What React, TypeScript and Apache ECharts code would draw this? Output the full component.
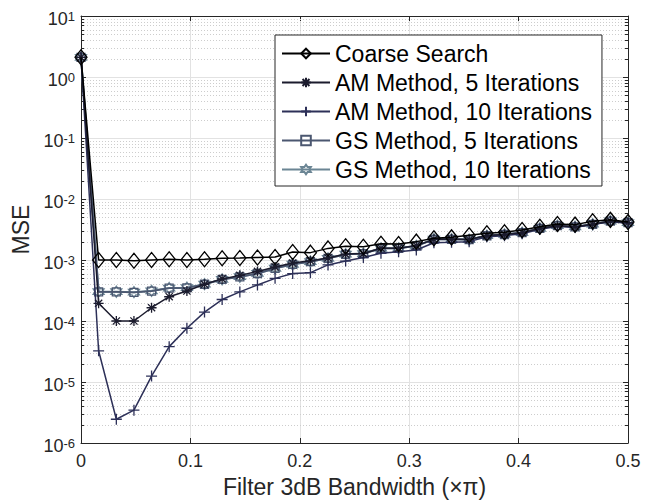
import React, { useEffect, useRef } from 'react';
import * as echarts from 'echarts';

// Filter 3dB bandwidth (x pi), 32 points from 0 to 0.5
const bandwidth = [
  0, 0.0161, 0.0323, 0.0484, 0.0645, 0.0806, 0.0968, 0.1129,
  0.129, 0.1452, 0.1613, 0.1774, 0.1935, 0.2097, 0.2258, 0.2419,
  0.2581, 0.2742, 0.2903, 0.3065, 0.3226, 0.3387, 0.3548, 0.371,
  0.3871, 0.4032, 0.4194, 0.4355, 0.4516, 0.4677, 0.4839, 0.5,
];

const coarseSearch = [
  2.1, 1.0e-3, 1.0e-3, 0.97e-3, 1.0e-3, 1.03e-3, 1.0e-3, 1.03e-3,
  1.07e-3, 1.08e-3, 1.1e-3, 1.12e-3, 1.35e-3, 1.32e-3, 1.55e-3, 1.68e-3,
  1.65e-3, 1.85e-3, 1.83e-3, 2.0e-3, 2.27e-3, 2.35e-3, 2.55e-3, 2.75e-3,
  2.85e-3, 3.1e-3, 3.5e-3, 3.9e-3, 3.8e-3, 4.3e-3, 4.55e-3, 4.2e-3,
];

const am5 = [
  2.1, 1.95e-4, 1.0e-4, 1.0e-4, 1.65e-4, 2.5e-4, 3.1e-4, 4.0e-4,
  4.9e-4, 5.6e-4, 6.5e-4, 7.7e-4, 8.9e-4, 9.7e-4, 1.08e-3, 1.25e-3,
  1.28e-3, 1.56e-3, 1.56e-3, 1.72e-3, 2.18e-3, 2.2e-3, 2.16e-3, 2.52e-3,
  2.63e-3, 2.8e-3, 3.3e-3, 3.65e-3, 3.52e-3, 3.87e-3, 4.35e-3, 4.1e-3,
];

const am10 = [
  2.1, 3.25e-5, 2.45e-6, 3.45e-6, 1.25e-5, 3.8e-5, 7.6e-5, 1.4e-4,
  2.25e-4, 3.0e-4, 3.9e-4, 5.0e-4, 6.0e-4, 6.2e-4, 8.3e-4, 9.6e-4,
  1.1e-3, 1.29e-3, 1.37e-3, 1.46e-3, 1.92e-3, 1.95e-3, 2.0e-3, 2.4e-3,
  2.5e-3, 2.7e-3, 3.2e-3, 3.55e-3, 3.45e-3, 3.8e-3, 4.25e-3, 4.0e-3,
];

const gs5 = [
  2.1, 3.0e-4, 3.0e-4, 2.95e-4, 3.1e-4, 3.45e-4, 3.5e-4, 4.0e-4,
  4.8e-4, 5.3e-4, 6.0e-4, 7.3e-4, 8.5e-4, 9.4e-4, 1.06e-3, 1.24e-3,
  1.27e-3, 1.55e-3, 1.55e-3, 1.7e-3, 2.18e-3, 2.18e-3, 2.15e-3, 2.5e-3,
  2.62e-3, 2.8e-3, 3.3e-3, 3.65e-3, 3.5e-3, 3.85e-3, 4.35e-3, 4.1e-3,
];

const gs10 = [
  2.1, 3.02e-4, 3.02e-4, 2.97e-4, 3.12e-4, 3.47e-4, 3.52e-4, 4.02e-4,
  4.82e-4, 5.32e-4, 6.02e-4, 7.32e-4, 8.52e-4, 9.42e-4, 1.065e-3, 1.245e-3,
  1.275e-3, 1.555e-3, 1.555e-3, 1.705e-3, 2.19e-3, 2.19e-3, 2.16e-3, 2.51e-3,
  2.63e-3, 2.81e-3, 3.31e-3, 3.66e-3, 3.51e-3, 3.86e-3, 4.36e-3, 4.11e-3,
];

const seriesNames = [
  'Coarse Search',
  'AM Method, 5 Iterations',
  'AM Method, 10 Iterations',
  'GS Method, 5 Iterations',
  'GS Method, 10 Iterations',
];

const xTickLabels = ['0', '0.1', '0.2', '0.3', '0.4', '0.5'];
const yDecadeExponents = [-6, -5, -4, -3, -2, -1, 0, 1];

const FONT = 'Arial, "Liberation Sans", Helvetica, sans-serif';
const TXT = '#262626';

const ASTERISK = 'path://M0,-5L0,5M-5,0L5,0M-3.6,-3.6L3.6,3.6M-3.6,3.6L3.6,-3.6';
const PLUS = 'path://M0,-5L0,5M-5,0L5,0';
const HEXAGRAM =
  'path://M0,-5L1.443,-2.5L4.33,-2.5L2.887,0L4.33,2.5L1.443,2.5L0,5L-1.443,2.5L-4.33,2.5L-2.887,0L-4.33,-2.5L-1.443,-2.5Z';

export default function App() {
  const ref = useRef<HTMLDivElement>(null);

  useEffect(() => {
    const el = ref.current;
    if (!el) return;
    const chart = echarts.init(el, null, { renderer: 'svg' });

    // minor log positions (2..9 x 10^e) for dotted grid and minor ticks
    const minorVals: number[] = [];
    for (let i = 0; i < yDecadeExponents.length - 1; i++) {
      const e = yDecadeExponents[i];
      for (let m = 2; m <= 9; m++) {
        minorVals.push(Number((m * Math.pow(10, e)).toPrecision(3)));
      }
    }

    const pair = (ys: number[]) => bandwidth.map((x, i) => [x, ys[i]]);
    const hollow = 'rgba(255,255,255,0)';

    const mk = (
      name: string,
      ys: number[],
      color: string,
      symbol: string,
      size: number | number[],
      width: number,
      z: number,
    ) => ({
      name,
      type: 'line',
      data: pair(ys),
      symbol,
      symbolSize: size,
      showSymbol: true,
      color,
      z,
      lineStyle: { color, width },
      itemStyle: { color: hollow, borderColor: color, borderWidth: 1.3 },
      emphasis: { disabled: true },
    });

    const option: any = {
      animation: false,
      backgroundColor: '#ffffff',
      grid: { left: 81, right: 19, top: 16, bottom: 61, containLabel: false },
      legend: {
        data: seriesNames,
        orient: 'vertical',
        left: 275,
        top: 35,
        itemWidth: 48,
        itemHeight: 12,
        itemGap: 6,
        padding: [7, 10, 5, 6],
        backgroundColor: '#ffffff',
        borderColor: '#262626',
        borderWidth: 1,
        borderRadius: 0,
        selectedMode: false,
        textStyle: { fontSize: 23, fontFamily: FONT, color: '#000' },
      },
      xAxis: [
        {
          type: 'value',
          min: 0,
          max: 0.5,
          interval: 0.1,
          name: 'Filter 3dB Bandwidth (\u00d7\u03c0)',
          nameLocation: 'middle',
          nameGap: 32,
          nameTextStyle: { fontSize: 23, fontFamily: FONT, color: TXT },
          axisLine: { show: true, onZero: false, lineStyle: { color: TXT, width: 1 } },
          axisTick: { show: true, inside: true, length: 5, lineStyle: { color: TXT } },
          axisLabel: {
            margin: 9,
            fontSize: 18,
            fontFamily: FONT,
            color: TXT,
            formatter: (v: number) => xTickLabels[Math.round(v * 10)] ?? String(v),
          },
          splitLine: { show: true, lineStyle: { color: '#e2e2e2', width: 1 } },
        },
        {
          type: 'value',
          position: 'top',
          min: 0,
          max: 0.5,
          interval: 0.1,
          axisLine: { show: true, onZero: false, lineStyle: { color: TXT, width: 1 } },
          axisTick: { show: true, inside: true, length: 5, lineStyle: { color: TXT } },
          axisLabel: { show: false },
          splitLine: { show: false },
        },
      ],
      yAxis: [
        {
          type: 'log',
          logBase: 10,
          min: 1e-6,
          max: 10,
          interval: 1,
          name: 'MSE',
          nameLocation: 'middle',
          nameGap: 45,
          nameTextStyle: { fontSize: 23, fontFamily: FONT, color: TXT },
          axisLine: { show: true, onZero: false, lineStyle: { color: TXT, width: 1 } },
          axisTick: { show: true, inside: true, length: 5, lineStyle: { color: TXT } },
          axisLabel: {
            margin: 6,
            padding: [6, 0, 0, 0],
            formatter: (v: number) => {
              const e = Math.round(Math.log10(v));
              return `{b|10}{s|${e}}`;
            },
            rich: {
              b: { fontSize: 18, fontFamily: FONT, color: TXT, verticalAlign: 'bottom' },
              s: { fontSize: 13, fontFamily: FONT, color: TXT, verticalAlign: 'top' },
            },
          },
          splitLine: { show: true, lineStyle: { color: '#e2e2e2', width: 1 } },
        },
        {
          type: 'log',
          logBase: 10,
          position: 'right',
          min: 1e-6,
          max: 10,
          interval: 1,
          axisLine: { show: true, onZero: false, lineStyle: { color: TXT, width: 1 } },
          axisTick: { show: true, inside: true, length: 5, lineStyle: { color: TXT } },
          axisLabel: { show: false },
          splitLine: { show: false },
        },
      ],
      series: [
        {
          name: 'minorGrid',
          type: 'custom',
          coordinateSystem: 'cartesian2d',
          xAxisIndex: 0,
          yAxisIndex: 0,
          silent: true,
          z: 1,
          data: minorVals.map((v) => [0, v]),
          encode: { x: 0, y: 1 },
          renderItem: (params: any, api: any) => {
            const v = api.value(1);
            const y = Math.round(api.coord([0, v])[1]) + 0.5;
            const cs = params.coordSys;
            return {
              type: 'group',
              children: [
                {
                  type: 'line',
                  shape: { x1: cs.x, y1: y, x2: cs.x + cs.width, y2: y },
                  style: { stroke: '#cdcdcd', lineWidth: 1, lineDash: [1, 2] },
                },
                {
                  type: 'line',
                  shape: { x1: cs.x, y1: y, x2: cs.x + 3, y2: y },
                  style: { stroke: TXT, lineWidth: 1 },
                },
                {
                  type: 'line',
                  shape: { x1: cs.x + cs.width - 3, y1: y, x2: cs.x + cs.width, y2: y },
                  style: { stroke: TXT, lineWidth: 1 },
                },
              ],
            };
          },
        },
        mk(seriesNames[4], gs10, '#6b8594', HEXAGRAM, 11, 2, 3),
        mk(seriesNames[3], gs5, '#4b5770', 'rect', 8, 1.8, 4),
        mk(seriesNames[2], am10, '#2d3058', PLUS, 11, 1.5, 5),
        mk(seriesNames[1], am5, '#1b1b2d', ASTERISK, 10, 1.5, 6),
        mk(seriesNames[0], coarseSearch, '#000000', 'diamond', [12, 15], 1.5, 7),
      ],
    };

    chart.setOption(option);
    return () => chart.dispose();
  }, []);

  return (
    <div
      ref={ref}
      style={{ position: 'fixed', left: 0, top: 0, width: 647, height: 504, background: '#fff' }}
    />
  );
}
